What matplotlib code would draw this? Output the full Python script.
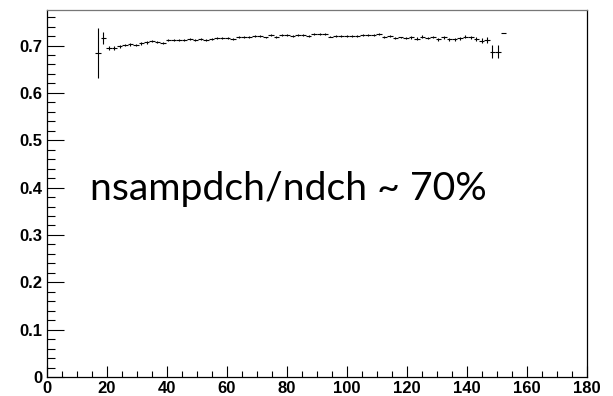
import matplotlib
matplotlib.use("Agg")
import matplotlib.pyplot as plt
import numpy as np
from matplotlib.ticker import MultipleLocator, FixedLocator, FixedFormatter

# Histogram: 100 bins over [0, 180]; filled bins 9..84
n_bins = 100
x_range = (0, 180)
first_bin = 9

ratio = [0.685, 0.716, 0.695, 0.694, 0.698, 0.701, 0.703, 0.701, 0.705, 0.707,
         0.710, 0.708, 0.705, 0.711, 0.711, 0.711, 0.711, 0.714, 0.711, 0.713,
         0.712, 0.713, 0.715, 0.716, 0.716, 0.714, 0.718, 0.718, 0.718, 0.720,
         0.720, 0.717, 0.722, 0.718, 0.723, 0.723, 0.721, 0.723, 0.723, 0.720,
         0.724, 0.724, 0.724, 0.719, 0.720, 0.721, 0.720, 0.721, 0.721, 0.722,
         0.723, 0.723, 0.724, 0.718, 0.720, 0.715, 0.717, 0.716, 0.717, 0.714,
         0.719, 0.716, 0.718, 0.713, 0.717, 0.713, 0.713, 0.715, 0.719, 0.717,
         0.714, 0.710, 0.712, 0.687, 0.687, 0.727]
ratio_err = [0.053, 0.012, 0.005, 0.004, 0.004, 0.003, 0.003, 0.003, 0.003, 0.003,
             0.002, 0.002, 0.002, 0.002, 0.002, 0.002, 0.002, 0.002, 0.002, 0.002,
             0.002, 0.002, 0.002, 0.002, 0.002, 0.002, 0.002, 0.002, 0.002, 0.002,
             0.002, 0.002, 0.002, 0.002, 0.002, 0.002, 0.002, 0.002, 0.002, 0.002,
             0.002, 0.002, 0.002, 0.002, 0.002, 0.002, 0.002, 0.002, 0.002, 0.002,
             0.002, 0.002, 0.002, 0.002, 0.002, 0.002, 0.002, 0.002, 0.003, 0.003,
             0.003, 0.003, 0.003, 0.003, 0.003, 0.003, 0.003, 0.004, 0.004, 0.004,
             0.005, 0.005, 0.006, 0.014, 0.014, 0.0]

x_ticks = [0, 20, 40, 60, 80, 100, 120, 140, 160, 180]
y_ticks = [0, 0.1, 0.2, 0.3, 0.4, 0.5, 0.6, 0.7]
y_labels = ["0", "0.1", "0.2", "0.3", "0.4", "0.5", "0.6", "0.7"]
annotation = "nsampdch/ndch ~ 70%"

edges = np.linspace(x_range[0], x_range[1], n_bins + 1)
centers = 0.5 * (edges[:-1] + edges[1:])
width = edges[1] - edges[0]
xc = centers[first_bin:first_bin + len(ratio)]

fig = plt.figure(figsize=(6.13, 3.96), dpi=100)
ax = fig.add_axes([0.0762, 0.048, 0.9576 - 0.0762, 0.9747 - 0.048])

ax.errorbar(xc, ratio, xerr=width / 2, yerr=ratio_err, fmt='none',
            ecolor='black', elinewidth=0.8, capsize=0)

ax.set_xlim(0, 180)
ax.set_ylim(0, 0.775)

ax.xaxis.set_major_locator(FixedLocator(x_ticks))
ax.xaxis.set_minor_locator(MultipleLocator(5))
ax.yaxis.set_major_locator(FixedLocator(y_ticks))
ax.yaxis.set_major_formatter(FixedFormatter(y_labels))
ax.yaxis.set_minor_locator(MultipleLocator(0.02))

for lab in ax.get_xticklabels() + ax.get_yticklabels():
    lab.set_fontfamily("Liberation Sans")
    lab.set_fontweight("bold")
    lab.set_fontsize(12)

ax.tick_params(axis='x', which='major', direction='in', length=8, width=0.8,
               pad=3, top=False)
ax.tick_params(axis='x', which='minor', direction='in', length=4, width=0.8, top=False)
ax.tick_params(axis='y', which='major', direction='in', length=12, width=0.8,
               pad=3, right=False)
ax.tick_params(axis='y', which='minor', direction='in', length=5.5, width=0.8, right=False)

for s in ax.spines.values():
    s.set_linewidth(0.9)
    s.set_color('black')
ax.spines['top'].set_color('#777777')

ax.text(14.4, 0.3745, annotation, fontsize=28.3, family="Lato",
        va='baseline', ha='left', color='black')

fig.savefig("out.png", dpi=100)
